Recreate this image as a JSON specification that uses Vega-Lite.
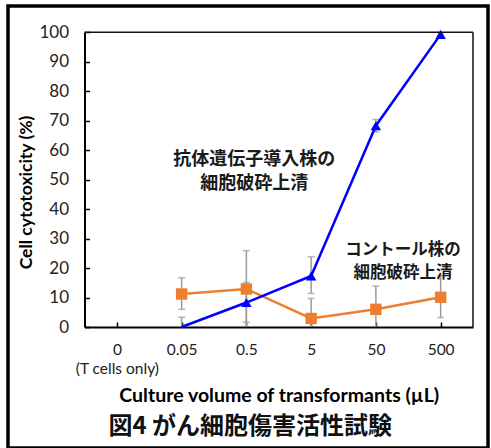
{
  "$schema": "https://vega.github.io/schema/vega-lite/v6.json",
  "width": 480,
  "height": 442,
  "autosize": {"type": "none"},
  "padding": {"left": 8, "top": 6, "right": 3, "bottom": 0},
  "background": "white",
  "config": {"view": {"stroke": "black", "strokeWidth": 3.5}, "font": "Lato"},
  "datasets": {
    "pts": [
      {"volume": "0.05", "idx": 1, "series": "control", "value": 11.2, "lo": 6.0, "hi": 16.7},
      {"volume": "0.5", "idx": 2, "series": "control", "value": 12.9, "lo": -0.1, "hi": 25.9},
      {"volume": "5", "idx": 3, "series": "control", "value": 2.9, "lo": -3.9, "hi": 9.7},
      {"volume": "50", "idx": 4, "series": "control", "value": 6.0, "lo": -1.9, "hi": 13.9},
      {"volume": "500", "idx": 5, "series": "control", "value": 10.1, "lo": 3.2, "hi": 17.4},
      {"volume": "0.05", "idx": 1, "series": "antibody", "value": -2.4, "lo": -8.1, "hi": 3.3},
      {"volume": "0.5", "idx": 2, "series": "antibody", "value": 8.3, "lo": 1.6, "hi": 15.1},
      {"volume": "5", "idx": 3, "series": "antibody", "value": 17.3, "lo": 11.4, "hi": 23.8},
      {"volume": "50", "idx": 4, "series": "antibody", "value": 68.3, "lo": 66.2, "hi": 70.4},
      {"volume": "500", "idx": 5, "series": "antibody", "value": 99.3, "lo": 98.8, "hi": 99.8}
    ]
  },
  "resolve": {"scale": {"y": "independent"}},
  "layer": [
    {
      "data": {"name": "pts"},
      "layer": [
        {
          "mark": {"type": "rule", "color": "#9a9a9a", "strokeWidth": 1.5},
          "encoding": {
            "x": {
              "field": "idx", "type": "quantitative",
              "scale": {"domain": [-0.5, 5.5], "range": [76.5, 465], "nice": false, "zero": false},
              "axis": {
                "values": [0, 1, 2, 3, 4, 5],
                "labelExpr": "datum.value == 0 ? ['0', '(T cells only)'] : ['0', '0.05', '0.5', '5', '50', '500'][datum.value]",
                "offset": -121,
                "tickSize": -5, "tickColor": "black", "tickWidth": 1.5,
                "domainColor": "black", "domainWidth": 2,
                "grid": false,
                "labelFont": "Lato", "labelFontSize": 15.5, "labelColor": "#222",
                "labelPadding": 20, "labelLineHeight": 19,
                "title": "Culture volume of transformants (µL)",
                "titleFont": "Lato", "titleFontSize": 19.5, "titleFontWeight": "bold", "titleColor": "black",
                "titlePadding": 10
              }
            },
            "y": {
              "field": "lo", "type": "quantitative",
              "scale": {"domain": [0, 100], "range": [321, 26.3], "nice": false, "zero": false, "clamp": true},
              "axis": {
                "values": [0, 10, 20, 30, 40, 50, 60, 70, 80, 90, 100],
                "offset": -76.5,
                "tickSize": -5, "tickColor": "black", "tickWidth": 1.5,
                "domainColor": "black", "domainWidth": 2,
                "grid": false,
                "labelFont": "Lato", "labelFontSize": 17, "labelColor": "#222",
                "labelPadding": 21,
                "title": "Cell cytotoxicity (%)",
                "titleFont": "Lato", "titleFontSize": 17.5, "titleFontWeight": "bold", "titleColor": "black",
                "titlePadding": 3,
                "titleY": 186
              }
            },
            "y2": {"field": "hi"}
          }
        },
        {
          "mark": {"type": "tick", "orient": "horizontal", "color": "#9a9a9a", "size": 7, "thickness": 1.5},
          "encoding": {
            "x": {"field": "idx", "type": "quantitative"},
            "y": {"field": "hi", "type": "quantitative"}
          }
        },
        {
          "transform": [{"filter": "datum.lo >= 0"}],
          "mark": {"type": "tick", "orient": "horizontal", "color": "#9a9a9a", "size": 7, "thickness": 1.5},
          "encoding": {
            "x": {"field": "idx", "type": "quantitative"},
            "y": {"field": "lo", "type": "quantitative"}
          }
        },
        {
          "transform": [{"filter": "datum.series == 'control'"}],
          "mark": {"type": "line", "color": "#ED7D31", "strokeWidth": 2.5},
          "encoding": {
            "x": {"field": "idx", "type": "quantitative"},
            "y": {"field": "value", "type": "quantitative"}
          }
        },
        {
          "transform": [{"filter": "datum.series == 'control'"}],
          "mark": {"type": "point", "shape": "square", "filled": true, "color": "#ED7D31", "size": 130, "opacity": 1},
          "encoding": {
            "x": {"field": "idx", "type": "quantitative"},
            "y": {"field": "value", "type": "quantitative"}
          }
        },
        {
          "transform": [{"filter": "datum.series == 'antibody'"}],
          "mark": {"type": "line", "color": "#0000FF", "strokeWidth": 2.5},
          "encoding": {
            "x": {"field": "idx", "type": "quantitative"},
            "y": {"field": "value", "type": "quantitative"}
          }
        },
        {
          "transform": [{"filter": "datum.series == 'antibody' && datum.value >= 0"}],
          "mark": {"type": "point", "shape": "triangle-up", "filled": true, "color": "#0000FF", "size": 110, "opacity": 1},
          "encoding": {
            "x": {"field": "idx", "type": "quantitative"},
            "y": {"field": "value", "type": "quantitative"}
          }
        },
        {
          "data": {"values": [{"edge": "top"}]},
          "mark": {"type": "rule", "color": "#111", "strokeWidth": 1.5},
          "encoding": {
            "x": {"datum": -0.5, "type": "quantitative"},
            "x2": {"datum": 5.5},
            "y": {"datum": 100, "type": "quantitative"}
          }
        },
        {
          "data": {"values": [{"edge": "right"}]},
          "mark": {"type": "rule", "color": "#111", "strokeWidth": 1.5},
          "encoding": {
            "x": {"datum": 5.5, "type": "quantitative"},
            "y": {"datum": 0, "type": "quantitative"},
            "y2": {"datum": 100}
          }
        },
        {
          "data": {"values": [{"label": "抗体遺伝子導入株の\n細胞破砕上清"}]},
          "mark": {"type": "text", "font": "Noto Sans CJK JP", "fontSize": 18, "fontWeight": "bold", "lineBreak": "\n", "lineHeight": 24, "align": "center", "baseline": "middle", "color": "#1a1a1a"},
          "encoding": {
            "x": {"datum": 2.12, "type": "quantitative"},
            "y": {"datum": 56.7, "type": "quantitative"},
            "text": {"field": "label"}
          }
        },
        {
          "data": {"values": [{"label": "コントール株の\n細胞破砕上清"}]},
          "mark": {"type": "text", "font": "Noto Sans CJK JP", "fontSize": 16.5, "fontWeight": "bold", "lineBreak": "\n", "lineHeight": 23, "align": "center", "baseline": "middle", "color": "#1a1a1a"},
          "encoding": {
            "x": {"datum": 4.42, "type": "quantitative"},
            "y": {"datum": 26.0, "type": "quantitative"},
            "text": {"field": "label"}
          }
        }
      ]
    },
    {
      "data": {"values": [{"caption": "図4 がん細胞傷害活性試験"}]},
      "mark": {"type": "text", "font": "Noto Sans CJK JP", "fontSize": 24, "fontWeight": "bold", "align": "center", "baseline": "middle", "color": "#111"},
      "encoding": {
        "x": {"datum": 2.06, "type": "quantitative"},
        "y": {"datum": -33.9, "type": "quantitative", "scale": {"domain": [0, 100], "range": [321, 26.3], "nice": false, "zero": false}, "axis": null},
        "text": {"field": "caption"}
      }
    }
  ]
}
